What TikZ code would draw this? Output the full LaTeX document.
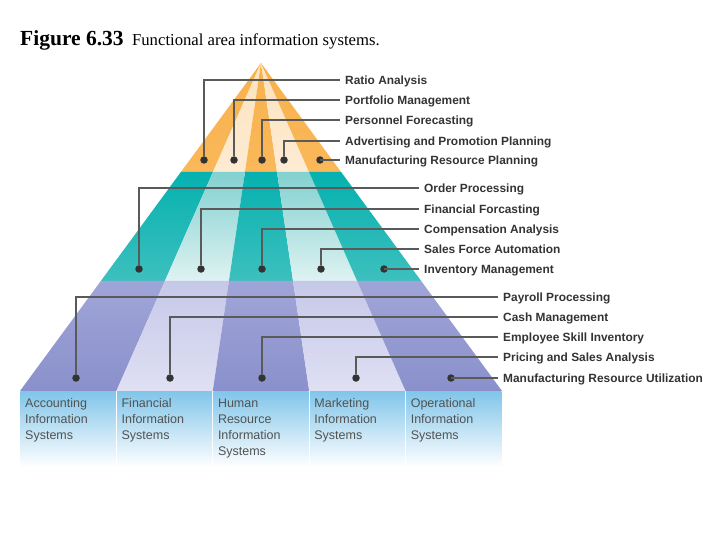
\documentclass[tikz,border=0pt]{standalone}
\usepackage{fontspec}
\setmainfont{Liberation Serif}
\newfontfamily\labelfont{Liberation Sans}
\usetikzlibrary{calc}

\definecolor{orgDT}{HTML}{F8B14D}
\definecolor{orgDB}{HTML}{FAB85A}
\definecolor{orgLT}{HTML}{FCE3BE}
\definecolor{orgLB}{HTML}{FDEBD3}
\definecolor{teaDT}{HTML}{05B1AF}
\definecolor{teaDB}{HTML}{3DC0BE}
\definecolor{teaLT}{HTML}{82D1D0}
\definecolor{teaLB}{HTML}{DFF2F2}
\definecolor{purDT}{HTML}{A0A5D8}
\definecolor{purDB}{HTML}{8A90CB}
\definecolor{purLT}{HTML}{C6C8E9}
\definecolor{purLB}{HTML}{DFE0F3}
\definecolor{boxtop}{HTML}{80C5EA}
\definecolor{leadgray}{HTML}{5A5A5A}
\definecolor{dotgray}{HTML}{333333}
\definecolor{textgray}{HTML}{333333}

\begin{document}
\begin{tikzpicture}[x=1pt,y=-1pt,
    lbl/.style={anchor=west,inner xsep=5pt,inner ysep=0pt,text height=8.6pt,text depth=0pt,
      font=\labelfont\bfseries\fontsize{11.9}{14}\selectfont,text=textgray},
    sysname/.style={anchor=north west,inner sep=0pt,align=left,
      font=\labelfont\fontsize{12.5}{16}\selectfont,text=textgray!85},
    dot/.style={circle,fill=dotgray,inner sep=0pt,minimum size=7.5pt},
    lead/.style={draw=leadgray,line width=1.2pt}]
  \useasboundingbox (0,0) rectangle (720,540);

  \node[anchor=base west,inner sep=0pt,font=\bfseries\fontsize{21.5}{24}\selectfont] (fig) at (20,46) {Figure 6.33};
  \node[anchor=base west,inner sep=0pt,font=\fontsize{16.7}{19}\selectfont] (caption) at ([xshift=8pt]fig.base east) {Functional area information systems.};

  \coordinate (apex) at (261,63);
  \foreach \i/\x in {0/20,1/116.4,2/212.8,3/309.2,4/405.6,5/502}
    \coordinate (b\i) at (\x,391);

  \foreach \t/\s/\band in {0/0.3323/org,0.3323/0.6646/tea,0.6646/1/pur}
    \foreach \i/\kind in {0/D,1/L,2/D,3/L,4/D} {
      \pgfmathtruncatemacro\j{\i+1}
      \shade[top color=\band\kind T,bottom color=\band\kind B]
        ($(apex)!\t!(b\i)$) -- ($(apex)!\t!(b\j)$) -- ($(apex)!\s!(b\j)$) -- ($(apex)!\s!(b\i)$) -- cycle;
    }

  \foreach \i in {0,...,4} {
    \pgfmathtruncatemacro\j{\i+1}
    \shade[top color=boxtop,bottom color=white] ($(b\i)+(0.6,0)$) rectangle ($(b\j)+(-0.6,76)$);
  }

  \node[sysname] (acc) at (25,398.5) {Accounting\\Information\\Systems};
  \node[sysname] (fin) at (121.4,398.5) {Financial\\Information\\Systems};
  \node[sysname] (hum) at (217.8,398.5) {Human\\Resource\\Information\\Systems};
  \node[sysname] (mkt) at (314.2,398.5) {Marketing\\Information\\Systems};
  \node[sysname] (ops) at (410.6,398.5) {Operational\\Information\\Systems};

  \foreach \k/\x/\y/\txt in {1/204/80/Ratio Analysis,2/234/100/Portfolio Management,
      3/262/120/Personnel Forecasting,4/284/141/Advertising and Promotion Planning,
      5/320/160/Manufacturing Resource Planning} {
    \node[lbl] (top\k) at (340,\y) {\txt};
    \node[dot] (topdot\k) at (\x,160) {};
    \draw[lead] (topdot\k) |- (top\k.west);
  }

  \foreach \k/\x/\y/\txt in {1/139/188/Order Processing,2/201/209/Financial Forcasting,
      3/262/229/Compensation Analysis,4/321/249/Sales Force Automation,
      5/384/269/Inventory Management} {
    \node[lbl] (mid\k) at (419,\y) {\txt};
    \node[dot] (middot\k) at (\x,269) {};
    \draw[lead] (middot\k) |- (mid\k.west);
  }

  \foreach \k/\x/\y/\txt in {1/76/297/Payroll Processing,2/170/317/Cash Management,
      3/262/337/Employee Skill Inventory,4/356/357/Pricing and Sales Analysis,
      5/451/378/Manufacturing Resource Utilization} {
    \node[lbl] (low\k) at (498,\y) {\txt};
    \node[dot] (lowdot\k) at (\x,378) {};
    \draw[lead] (lowdot\k) |- (low\k.west);
  }
\end{tikzpicture}
\end{document}
